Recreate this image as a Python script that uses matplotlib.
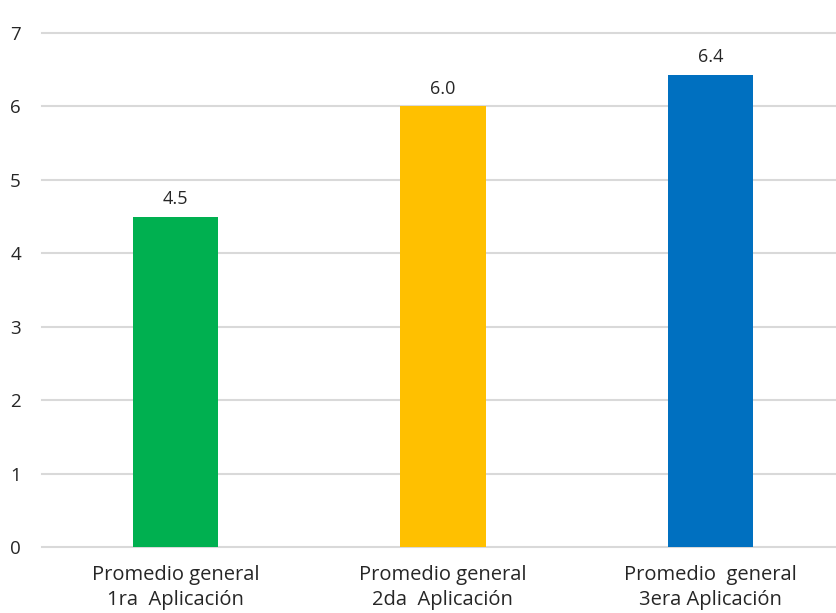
import matplotlib.pyplot as plt
import numpy as np

# datos del gráfico
categorias = ["Promedio general\n1ra  Aplicación",
              "Promedio general\n2da  Aplicación",
              "Promedio  general\n3era Aplicación"]
valores = [4.5, 6.0, 6.43]
etiquetas = ["4.5", "6.0", "6.4"]
colores = ["#00B050", "#FFC000", "#0070C0"]

def main():
    plt.rcParams['font.family'] = ['Open Sans', 'DejaVu Sans']
    fig = plt.figure(figsize=(8.36, 6.13), dpi=100)
    ax = fig.add_axes([0.05, 0.1077, 0.95, 0.8385])

    x = np.arange(len(categorias))
    barras = ax.bar(x, valores, width=0.32, color=colores, zorder=3)

    # etiquetas de valores
    for b, t in zip(barras, etiquetas):
        ax.text(b.get_x() + b.get_width() / 2, b.get_height() + 0.12, t,
                ha='center', va='bottom', fontsize=13, color='#262626')

    ax.set_xlim(-0.5, 2.47)
    ax.set_ylim(0, 7)
    ax.set_yticks(range(0, 8))
    ax.set_xticks(x)
    ax.set_xticklabels(categorias, fontsize=14.5, color='#262626', linespacing=1.35)
    ax.tick_params(axis='y', labelsize=13.5, colors='#262626', length=0, pad=15)
    ax.tick_params(axis='x', length=0, pad=13)

    ax.grid(axis='y', color='#d9d9d9', linewidth=1.5, zorder=0)
    for g in ax.get_ygridlines():
        g.set_clip_on(False)
    for s in ax.spines.values():
        s.set_visible(False)

    fig.savefig("out.png", dpi=100)

if __name__ == "__main__":
    main()
